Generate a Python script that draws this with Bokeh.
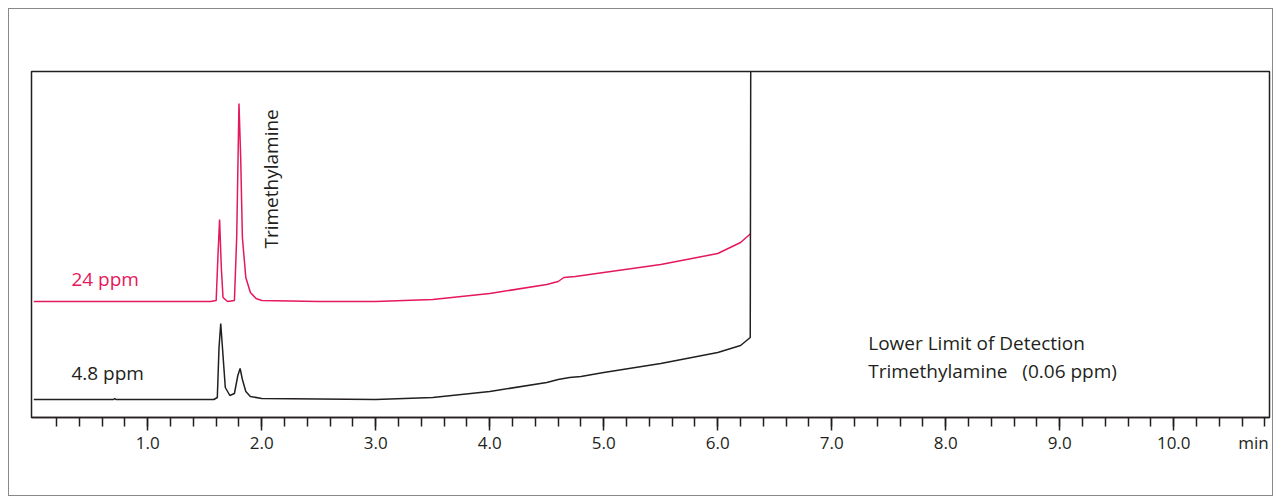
from bokeh.plotting import figure
from bokeh.models import FixedTicker, Label, LinearAxis
from bokeh.embed import file_html
from bokeh.resources import INLINE

# readings (time in min, signal in arbitrary units)
t_24 = [0.0, 1.55, 1.60, 1.615, 1.63, 1.645, 1.66, 1.70, 1.76, 1.78, 1.80, 1.815, 1.83,
        1.86, 1.90, 1.95, 2.0, 2.5, 3.0, 3.5, 4.0, 4.5, 4.6, 4.65, 4.75, 5.0, 5.5, 6.0,
        6.2, 6.29]
s_24 = [116, 116, 117, 160, 198, 150, 120, 116, 117, 180, 314, 260, 180, 140, 125,
        119, 117, 116, 116, 118, 124, 133, 136, 140, 141, 145, 153, 164, 175, 184]

t_48 = [0.0, 0.7, 0.71, 0.72, 1.58, 1.61, 1.625, 1.64, 1.655, 1.68, 1.72, 1.76, 1.79,
        1.81, 1.83, 1.86, 1.9, 2.0, 3.0, 3.5, 4.0, 4.5, 4.6, 4.7, 4.8, 5.0, 5.5, 6.0,
        6.2, 6.285, 6.29]
s_48 = [18, 18, 19, 18, 18, 20, 70, 94, 70, 30, 22, 24, 42, 49, 38, 26, 21, 19, 18,
        20, 26, 35, 38, 40, 41, 45, 54, 65, 72, 80, 400]

major = [1, 2, 3, 4, 5, 6, 7, 8, 9, 10]
minor = [round(0.2 * i, 1) for i in range(1, 55)]
unit_pos = 10.7

p = figure(width=1265, height=488, output_backend="svg", toolbar_location=None,
           x_range=(-0.02, 10.84), y_range=(0, 346), x_axis_location=None,
           y_axis_location=None,
           min_border_left=22, min_border_right=5, min_border_top=62, min_border_bottom=80)
p.styles = {"border": "1px solid #888", "margin-left": "8px", "margin-top": "8px"}
p.grid.visible = False
p.outline_line_color = "#231f20"
p.outline_line_width = 1.5

# inner axis: ticks only
ax_ticks = LinearAxis(ticker=FixedTicker(ticks=major, minor_ticks=minor),
                      major_label_overrides={k: "" for k in major}, major_label_standoff=0,
                      axis_line_color="#231f20", axis_line_width=1.5,
                      major_tick_line_color="#231f20", major_tick_line_width=1.5,
                      major_tick_out=13, major_tick_in=0,
                      minor_tick_line_color="#231f20", minor_tick_line_width=1.5,
                      minor_tick_out=9, minor_tick_in=0)
p.add_layout(ax_ticks, "below")

# outer axis: tick labels and unit
labels = {k: f"{k:.1f}" for k in major}
labels[unit_pos] = "min"
ax_labels = LinearAxis(ticker=FixedTicker(ticks=major + [unit_pos], minor_ticks=[]),
                       major_label_overrides=labels, axis_line_color=None,
                       major_tick_line_color=None, major_tick_out=0, major_tick_in=0,
                       minor_tick_line_color=None, major_label_standoff=0,
                       major_label_text_font="Open Sans", major_label_text_font_size="17px",
                       major_label_text_color="#231f20")
p.add_layout(ax_labels, "below")

p.line(t_24, s_24, color="#e4185a", line_width=1.5)
p.line(t_48, s_48, color="#231f20", line_width=1.5)

def lab(x, y, text, color="#231f20", angle=0, size="19px"):
    p.add_layout(Label(x=x, y=y, text=text, text_color=color, text_font="Open Sans",
                       text_font_size=size, angle=angle, text_baseline="middle"))

lab(0.33, 139, "24 ppm", color="#e4185a")
lab(0.33, 45, "4.8 ppm")
lab(2.08, 169, "Trimethylamine", angle=1.5708)
lab(7.32, 75, "Lower Limit of Detection")
lab(7.32, 47, "Trimethylamine\u00a0\u00a0\u00a0(0.06 ppm)")

open("out.html", "w").write(file_html(p, INLINE))
